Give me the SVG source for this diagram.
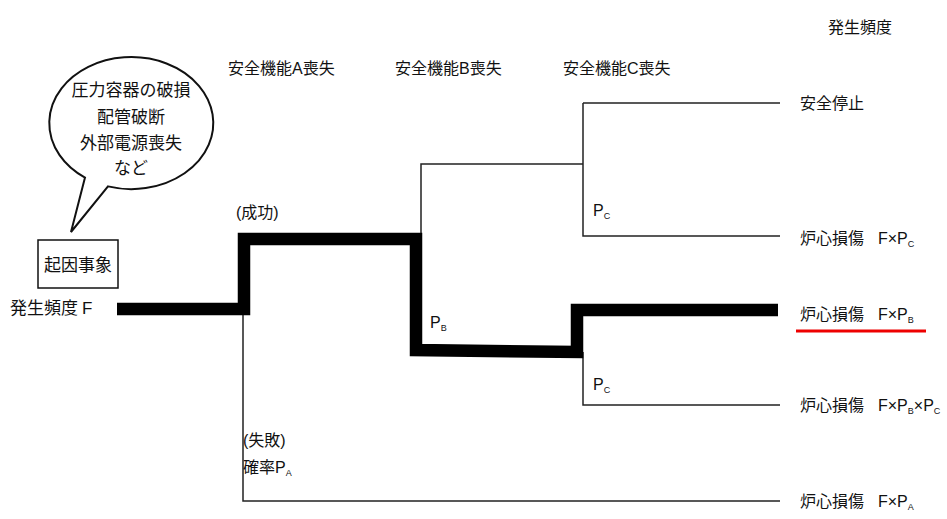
<svg xmlns="http://www.w3.org/2000/svg" width="947" height="519" viewBox="0 0 947 519">
<style>
text{font-family:"Liberation Sans","Noto Sans CJK JP",sans-serif;font-size:16px;fill:#111}
.sub{font-size:9px}
.thin{fill:none;stroke:#222;stroke-width:1.5}
.thick{fill:none;stroke:#000;stroke-width:12.5;stroke-linejoin:miter}
.big{font-size:17px}
</style>
<rect width="947" height="519" fill="#fff"/>
<g id="headers">
<text x="828" y="33">発生頻度</text>
<text x="228" y="74">安全機能A喪失</text>
<text x="395" y="74">安全機能B喪失</text>
<text x="563" y="74">安全機能C喪失</text>
</g>
<g id="bubble">
<path d="M85,177.6 A82,66 0 1 1 108,186.4 L71,232 Z" fill="#fff" stroke="#111" stroke-width="2" stroke-linejoin="miter"/>
<text class="big" x="131" y="96" text-anchor="middle">圧力容器の破損</text>
<text class="big" x="131" y="123" text-anchor="middle">配管破断</text>
<text class="big" x="131" y="149" text-anchor="middle">外部電源喪失</text>
<text class="big" x="131" y="174" text-anchor="middle">など</text>
</g>
<g id="initiator">
<rect x="38" y="240" width="80" height="48" fill="#fff" stroke="#111" stroke-width="1.5"/>
<text class="big" x="78" y="271" text-anchor="middle">起因事象</text>
<text class="big" x="10" y="314">発生頻度<tspan x="82">F</tspan></text>
</g>
<g id="connectors">
<path class="thin" d="M243,308 V501 H780"/>
<path class="thin" d="M421,239 V164 H583"/>
<path class="thin" d="M583,103 H780 M583,103 V236 H780"/>
<path class="thin" d="M583,352 V405 H780"/>
<path class="thick" d="M117,309 H244 V239 H416 V350 L577,352 V310 H778"/>
</g>
<g id="branch-labels">
<text x="236" y="218">(成功)</text>
<text x="430" y="328">P<tspan class="sub" dy="3">B</tspan></text>
<text x="593" y="216">P<tspan class="sub" dy="3">C</tspan></text>
<text x="593" y="390">P<tspan class="sub" dy="3">C</tspan></text>
<text x="243" y="446">(失敗)</text>
<text x="243" y="473">確率P<tspan class="sub" dy="3">A</tspan></text>
</g>
<g id="outcomes">
<text x="800" y="109">安全停止</text>
<text x="800" y="244">炉心損傷<tspan x="878">F×P</tspan><tspan class="sub" dy="3">C</tspan></text>
<text x="800" y="320">炉心損傷<tspan x="878">F×P</tspan><tspan class="sub" dy="3">B</tspan></text>
<line x1="796" y1="331" x2="926" y2="331" stroke="#e00" stroke-width="3"/>
<text x="800" y="411">炉心損傷<tspan x="878">F×P</tspan><tspan class="sub" dy="3">B</tspan><tspan dy="-3">×P</tspan><tspan class="sub" dy="3">C</tspan></text>
<text x="800" y="507">炉心損傷<tspan x="878">F×P</tspan><tspan class="sub" dy="3">A</tspan></text>
</g>
</svg>
